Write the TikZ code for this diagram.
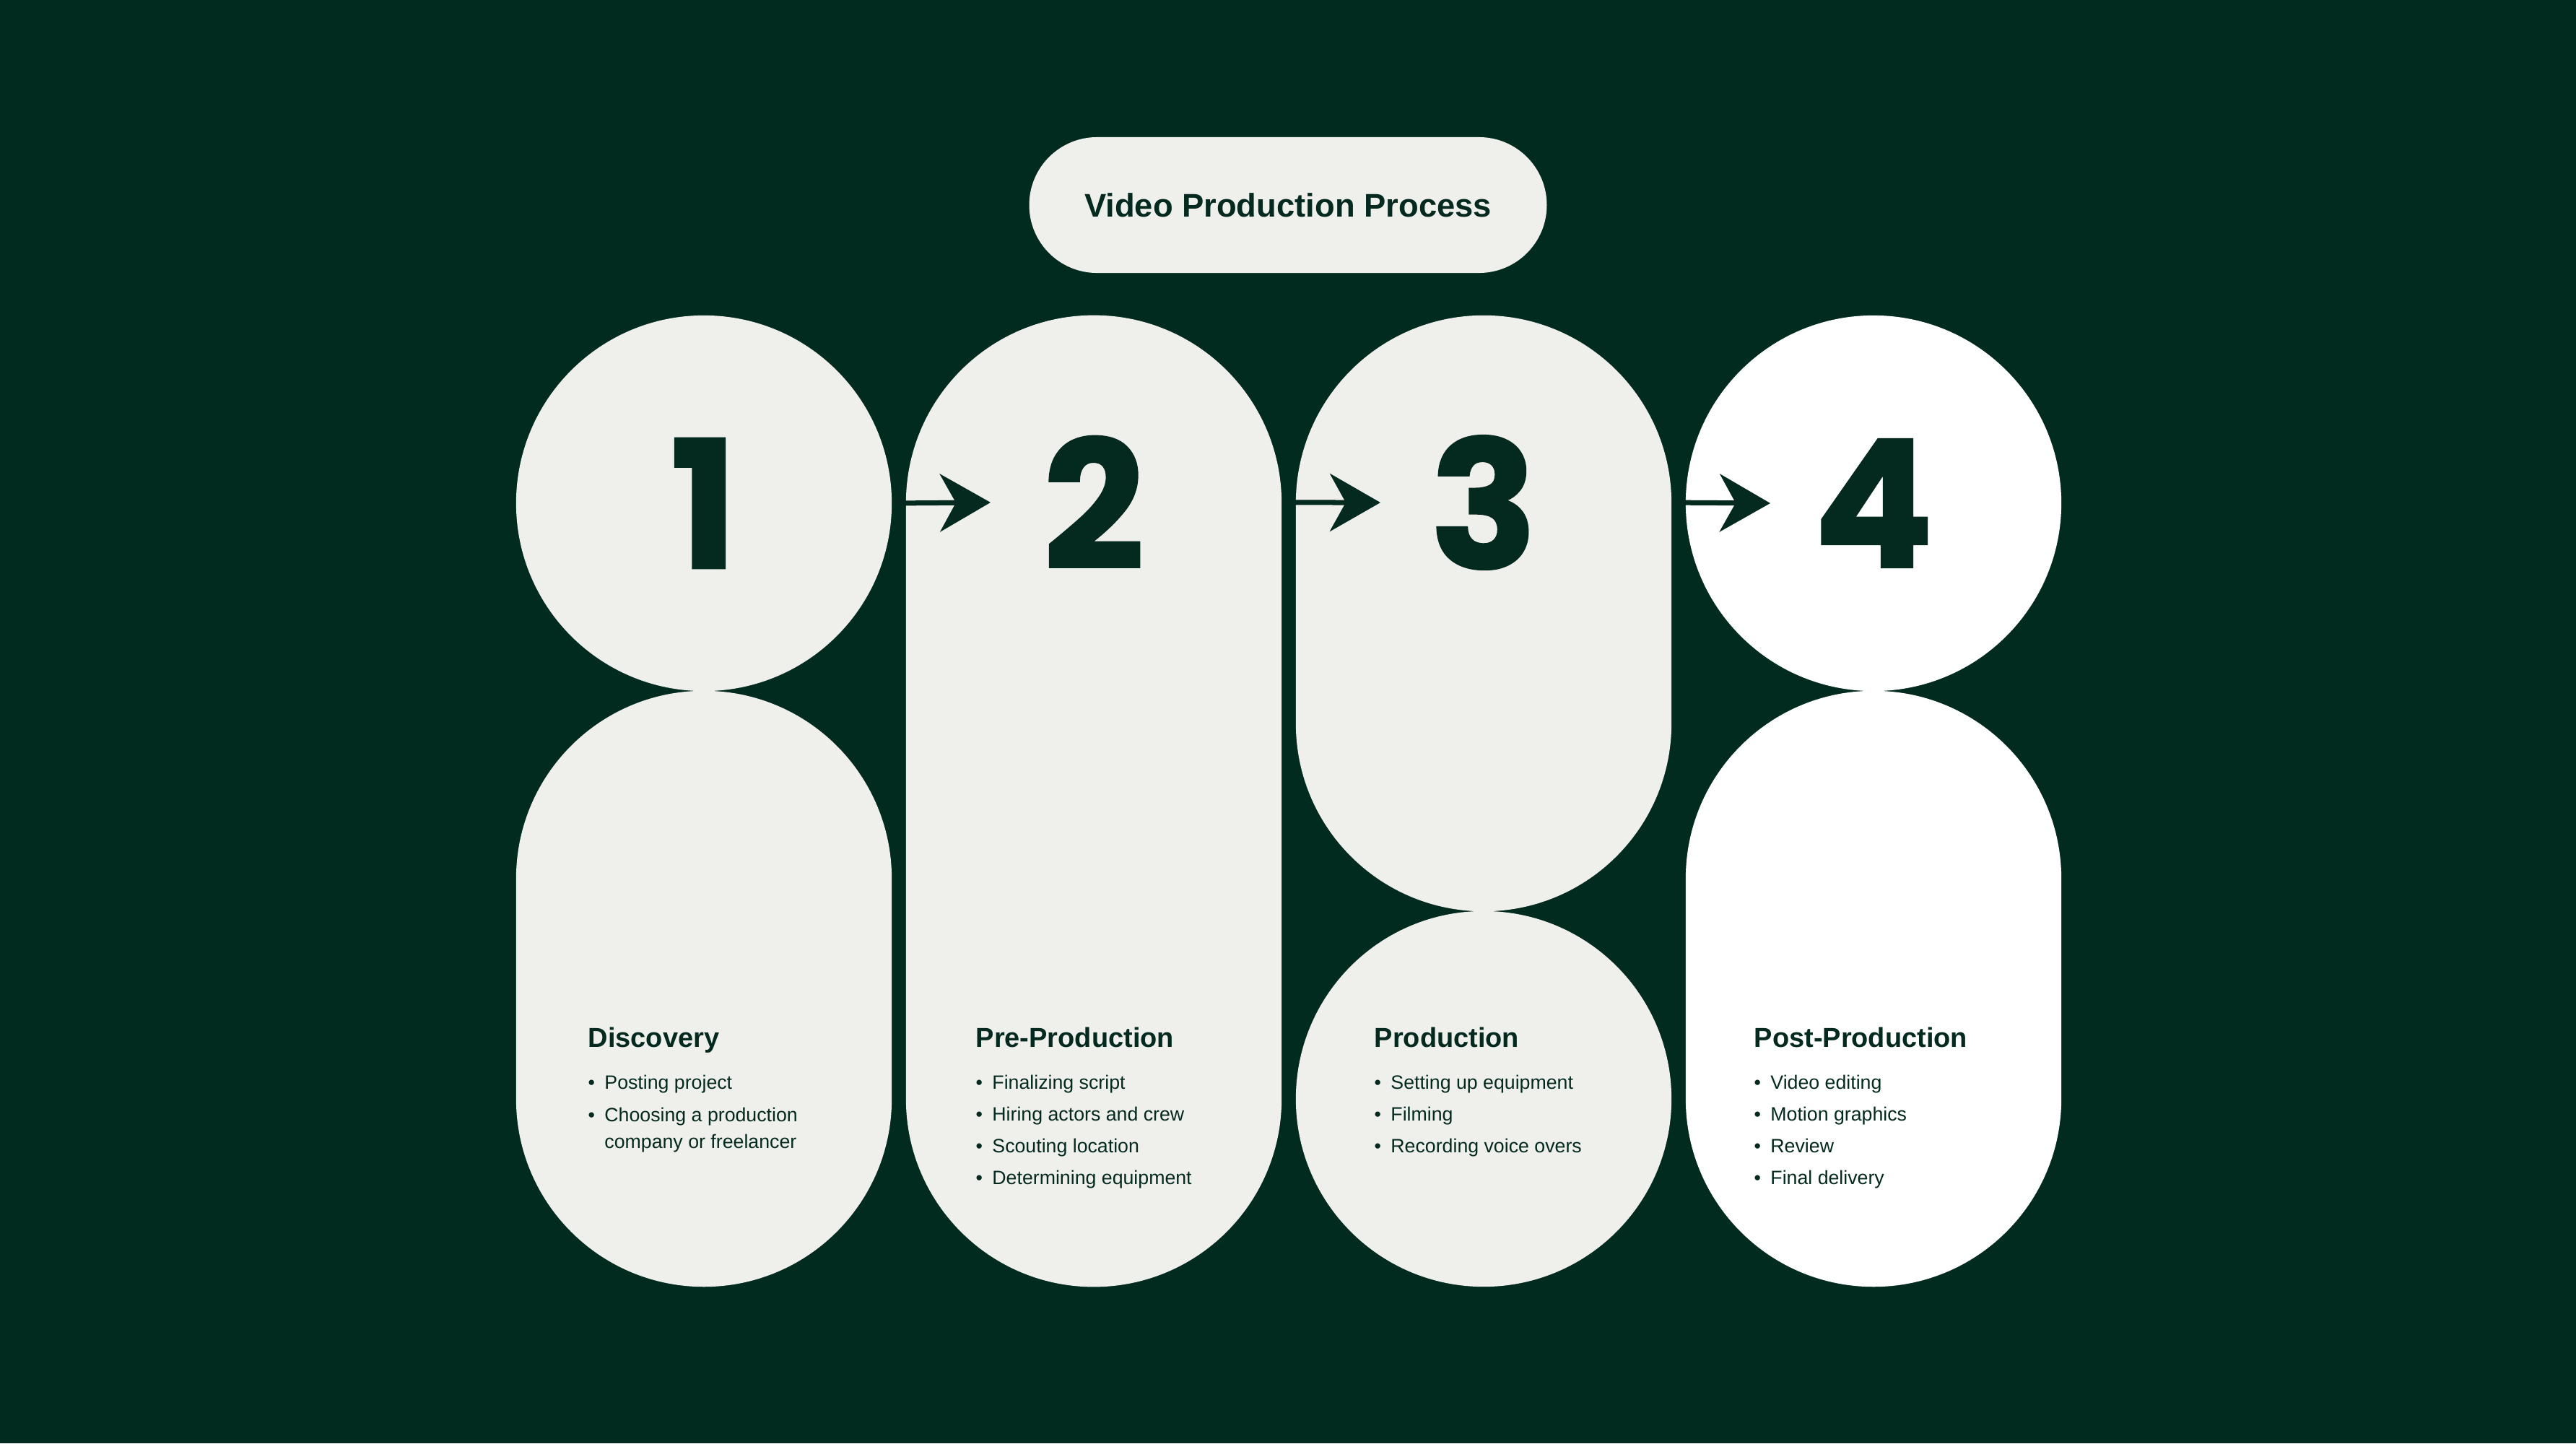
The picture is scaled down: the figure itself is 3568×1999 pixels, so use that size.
\documentclass[tikz,border=0pt]{standalone}
\usepackage{fontspec}
\setmainfont{Liberation Sans}
\newfontfamily\numfont[BoldFeatures={FakeBold=1.2}]{Poppins}
\usetikzlibrary{arrows.meta,calc,shapes.misc}

\definecolor{bgreen}{HTML}{022B20}
\definecolor{paper}{HTML}{EFF0EC}
\definecolor{ink}{HTML}{04291F}

\begin{document}
\begin{tikzpicture}[
  x=0.01cm, y=-0.01cm,
  step arrow/.style={
      arrows = {-Stealth[length=0.7cm,width=0.8cm,inset=0.22cm]},
      line width=0.07cm,
      draw=ink
    },
  disc/.style={
      circle,
      fill=paper,
      inner sep=0pt,
      minimum size=5.2cm
    },
  pill/.style={
      rectangle,
      rounded corners=2.6cm,
      fill=paper,
      inner sep=0pt,
      minimum width=5.2cm
    },
  number/.style={
      text=ink,
      font=\numfont\bfseries\fontsize{70}{70}\selectfont
    },
  heading/.style={
      anchor=base west,
      inner sep=0pt,
      text=ink,
      font=\bfseries\fontsize{10.8}{13}\selectfont
    },
  item/.style={
      anchor=base west,
      inner sep=0pt,
      text=ink,
      font=\fontsize{7.6}{10.5}\selectfont
    }]

  % background
  \fill [bgreen] (0,0) rectangle (3568,1999);

  \node [rounded rectangle, fill=paper, minimum width=7.4cm, minimum height=1.88cm,
    text=ink, font=\bfseries\fontsize{12.9}{15}\selectfont] (title) at (1784,284) {Video Production Process};

  % shapes
  \node [disc] (c1) at (975,697) {};
  \node [pill, minimum height=8.25cm] (p1) at (975,1369.5) {};
  \node [pill, minimum height=13.45cm] (p2) at (1515,1109.5) {};
  \node [pill, minimum height=8.25cm] (p3) at (2055,849.5) {};
  \node [disc] (c3) at (2055,1522) {};
  \node [disc, fill=white] (c4) at (2595,697) {};
  \node [pill, fill=white, minimum height=8.25cm] (p4) at (2595,1369.5) {};

  % numbers
  \node [number] (n1) at (c1) {1};
  \node [number] (n2) at ($(p2.north) + (0,260)$) {2};
  \node [number] (n3) at ($(p3.north) + (0,260)$) {3};
  \node [number] (n4) at (c4) {4};

  \coordinate (tip2) at ($(n2) + (-143,0)$);
  \coordinate (tip3) at ($(n3) + (-143,0)$);
  \coordinate (tip4) at ($(n4) + (-143,0)$);
  \draw [step arrow] (c1.east) -- (tip2);
  \draw [step arrow] (p2.east |- n2) -- (tip3);
  \draw [step arrow] (p3.east |- n3) -- (tip4);

  % Discovery
  \node [heading] (h1) at (814,1450) {Discovery};
  \node [item] (disc1) at ($(h1.base west) + (0,58)$) {\textbullet\enspace Posting project};
  \node [item] (disc2) at ($(h1.base west) + (0,103)$) {\textbullet\enspace Choosing a production};
  \node [item] (disc2b) at ($(disc2.base west) + (0,37)$) {\phantom{\textbullet\enspace}company or freelancer};

  % Pre-Production
  \node [heading] (h2) at (1351,1450) {Pre-Production};
  \foreach \txt [count=\k] in {Finalizing script, Hiring actors and crew, Scouting location, Determining equipment}
    \node [item] (pre\k) at ($(h2.base west) + (0,14+44.2*\k)$) {\textbullet\enspace\txt};

  % Production
  \node [heading] (h3) at (1903,1450) {Production};
  \foreach \txt [count=\k] in {Setting up equipment, Filming, Recording voice overs}
    \node [item] (prod\k) at ($(h3.base west) + (0,14+44.2*\k)$) {\textbullet\enspace\txt};

  % Post-Production
  \node [heading] (h4) at (2429,1450) {Post-Production};
  \foreach \txt [count=\k] in {Video editing, Motion graphics, Review, Final delivery}
    \node [item] (post\k) at ($(h4.base west) + (0,14+44.2*\k)$) {\textbullet\enspace\txt};
\end{tikzpicture}
\end{document}
